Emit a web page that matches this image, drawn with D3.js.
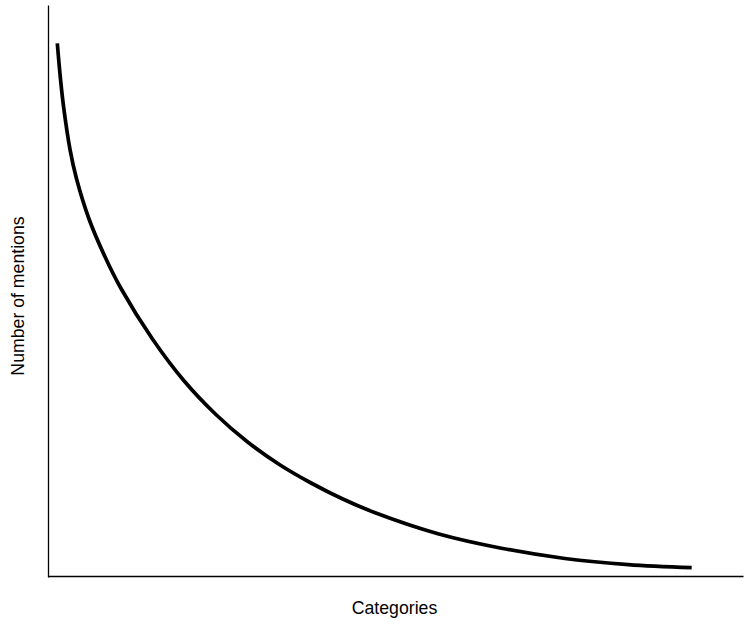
<!DOCTYPE html>
<html>
<head>
<meta charset="utf-8">
<script src="https://cdn.jsdelivr.net/npm/d3@7"></script>
<style>
  html, body { margin: 0; padding: 0; background: #fff; }
  svg { display: block; }
  text { font-family: "Liberation Sans", Arial, Helvetica, sans-serif; fill: #000; }
</style>
</head>
<body>
<svg id="chart" width="749" height="625"></svg>
<script>
// Category rank (0 = most mentioned, 100 = least) along the x axis
const ranks = [0, 0.5, 1, 2, 3, 5, 7.5, 10, 15, 20, 25, 30, 35, 40, 45, 50, 60, 70, 80, 90, 100];
// Number of mentions (arbitrary units, no ticks shown)
const mentions = [533.7, 498.2, 469.7, 427.7, 399, 358, 320.5, 289, 238, 196, 162.5,
                  135, 112.5, 94, 78, 64.5, 43.3, 28.8, 18.5, 12.3, 9.3];
const xLabel = "Categories";
const yLabel = "Number of mentions";

const svg = d3.select("#chart");

const x = d3.scaleLinear().domain([0, 100]).range([57.3, 691.7]);
const y = d3.scaleLinear().domain([0, 572]).range([577, 5]);

// Axis scale spanning the full drawn axis line
const xAxisScale = x.copy().domain([x.invert(48), x.invert(743)]).range([48, 743]);

svg.append("g")
  .attr("transform", "translate(0,576)")
  .call(d3.axisBottom(xAxisScale).ticks(0).tickSizeOuter(0))
  .call(g => g.select(".domain").attr("stroke", "#000").attr("stroke-width", 1.3));

svg.append("g")
  .attr("transform", "translate(48,0)")
  .call(d3.axisLeft(y).ticks(0).tickSizeOuter(0))
  .call(g => g.select(".domain").attr("stroke", "#000").attr("stroke-width", 1.3));

const data = ranks.map((r, i) => ({ r, v: mentions[i] }));

const line = d3.line()
  .x(d => x(d.r))
  .y(d => y(d.v))
  .curve(d3.curveCatmullRom.alpha(0.5));

svg.append("path")
  .datum(data)
  .attr("fill", "none")
  .attr("stroke", "#000")
  .attr("stroke-width", 3.7)
  .attr("stroke-linecap", "butt")
  .attr("d", line);

svg.append("text")
  .attr("x", 394.5)
  .attr("y", 614)
  .attr("text-anchor", "middle")
  .style("font-size", "17.7px")
  .text(xLabel);

svg.append("text")
  .attr("transform", "translate(24,296) rotate(-90)")
  .attr("text-anchor", "middle")
  .style("font-size", "17.7px")
  .text(yLabel);
</script>
</body>
</html>
